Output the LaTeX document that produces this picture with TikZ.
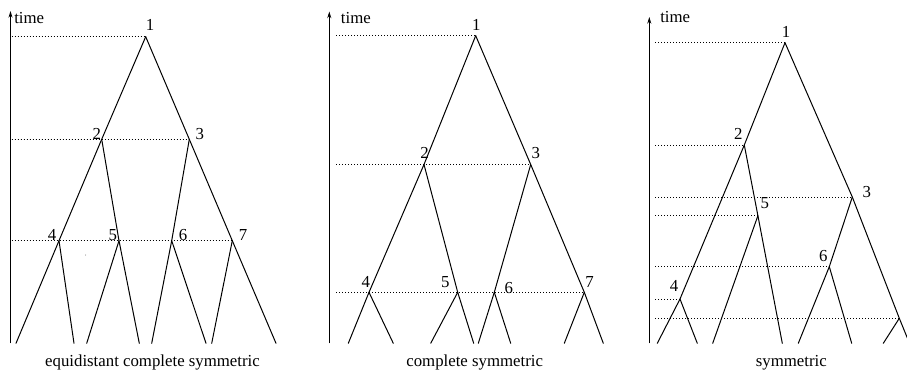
\documentclass[tikz,border=0pt]{standalone}
\usepackage{fontspec}
\setmainfont{Liberation Serif}
\usetikzlibrary{arrows.meta}
\tikzset{
  tree/.style={line width=0.75pt, line cap=round, line join=miter},
  dotline/.style={line width=0.6pt, dash pattern=on 0.6pt off 1.65pt},
  axisline/.style={line width=0.75pt, -{Stealth[length=5pt,width=3pt]}},
  lbl/.style={inner sep=0pt, font=\fontsize{12.6pt}{15pt}\selectfont},
}
\begin{document}
\begin{tikzpicture}[x=0.75pt, y=-0.75pt]
\useasboundingbox (0,0) rectangle (907,385);
\clip (0,0) rectangle (907,385);

% ---------------- Panel 1: equidistant complete symmetric
\coordinate (Abot) at (10.5,343.3);
\coordinate (Atop) at (10.5,11);
\coordinate (As) at (11.7,0);
\coordinate (A1) at (145.7,36.7);
\coordinate (A2) at (101.7,139.3);
\coordinate (A3) at (189.3,139.3);
\coordinate (A4) at (59,240.7);
\coordinate (A5) at (119,240.7);
\coordinate (A6) at (171.7,240.7);
\coordinate (A7) at (232.3,240.7);
\coordinate (Aa) at (16,343.3);
\coordinate (Ab) at (74,343.3);
\coordinate (Ac) at (86.7,343.3);
\coordinate (Ad) at (139.3,343.3);
\coordinate (Ae) at (151.7,343.3);
\coordinate (Af) at (206,343.3);
\coordinate (Ag) at (211.7,343.3);
\coordinate (Ah) at (276,343.3);

\draw[axisline] (Abot) -- (Atop);
\node[lbl, anchor=base west] (Atime) at (14,24) {time};
\foreach \n in {1,2,3,7} \draw[dotline] (As |- A\n) -- (A\n);
\draw[tree] (A1) -- (A2) -- (A4) -- (Aa);
\draw[tree] (A4) -- (Ab);
\draw[tree] (A2) -- (A5) -- (Ad);
\draw[tree] (A5) -- (Ac);
\draw[tree] (A1) -- (A3) -- (A7) -- (Ah);
\draw[tree] (A3) -- (A6) -- (Ae);
\draw[tree] (A6) -- (Af);
\draw[tree] (A7) -- (Ag);
\fill[black!60] (85.7,255) circle (0.5);
\node[lbl] (LA1) at (150,25) {1};
\node[lbl] (LA2) at (96.7,134) {2};
\node[lbl] (LA3) at (199.7,134) {3};
\node[lbl] (LA4) at (52,235) {4};
\node[lbl] (LA5) at (112.7,235) {5};
\node[lbl] (LA6) at (183,235) {6};
\node[lbl] (LA7) at (243,235) {7};
\node[lbl, anchor=base] (CA) at (152.5,366.5) {equidistant complete symmetric};

% ---------------- Panel 2: complete symmetric
\coordinate (Bbot) at (329.3,343.3);
\coordinate (Btop) at (329.3,11.5);
\coordinate (Bs) at (336,0);
\coordinate (B1) at (475.7,35.7);
\coordinate (B2) at (424,164.5);
\coordinate (B3) at (530.7,164.5);
\coordinate (B4) at (369,292.3);
\coordinate (B5) at (457.7,292.3);
\coordinate (B6) at (494.3,292.3);
\coordinate (B7) at (584.3,292.3);
\coordinate (Ba) at (348.3,343.3);
\coordinate (Bb) at (393.3,343.3);
\coordinate (Bc) at (430.7,343.3);
\coordinate (Bd) at (473.7,343.3);
\coordinate (Be) at (478.3,343.3);
\coordinate (Bf) at (510.7,343.3);
\coordinate (Bg) at (564.3,343.3);
\coordinate (Bh) at (603.3,343.3);

\draw[axisline] (Bbot) -- (Btop);
\node[lbl, anchor=base west] (Btime) at (340.7,24) {time};
\foreach \n in {1,3,7} \draw[dotline] (Bs |- B\n) -- (B\n);
\draw[tree] (B1) -- (B2) -- (B4) -- (Ba);
\draw[tree] (B4) -- (Bb);
\draw[tree] (B2) -- (B5) -- (Bd);
\draw[tree] (B5) -- (Bc);
\draw[tree] (B1) -- (B3) -- (B7) -- (Bh);
\draw[tree] (B3) -- (B6) -- (Be);
\draw[tree] (B6) -- (Bf);
\draw[tree] (B7) -- (Bg);
\node[lbl] (LB1) at (476.3,25) {1};
\node[lbl] (LB2) at (424.5,153) {2};
\node[lbl] (LB3) at (535.8,153) {3};
\node[lbl] (LB4) at (365.8,281.7) {4};
\node[lbl] (LB5) at (445.2,281.7) {5};
\node[lbl] (LB6) at (508.7,288) {6};
\node[lbl] (LB7) at (589.5,281.7) {7};
\node[lbl, anchor=base] (CB) at (474.7,366.5) {complete symmetric};

% ---------------- Panel 3: symmetric
\coordinate (Cbot) at (649.3,343.3);
\coordinate (Ctop) at (649.3,17);
\coordinate (Cs) at (655,0);
\coordinate (C1) at (785,42.7);
\coordinate (C2) at (744.3,145);
\coordinate (C3) at (852.3,197);
\coordinate (C5) at (757.9,215.7);
\coordinate (C6) at (829.3,266.7);
\coordinate (C4) at (680,299);
\coordinate (C7) at (899.3,318.3);
\coordinate (Ca) at (657.3,343.3);
\coordinate (Cb) at (697.3,343.3);
\coordinate (Cc) at (712.7,343.3);
\coordinate (Cd) at (782.3,343.3);
\coordinate (Ce) at (798.3,343.3);
\coordinate (Cf) at (851.7,343.3);
\coordinate (Cg) at (883.3,343.3);
\coordinate (Ch) at (909.5,343.3);

\draw[axisline] (Cbot) -- (Ctop);
\node[lbl, anchor=base west] (Ctime) at (660,23) {time};
\foreach \n in {1,2,3,5,6,4,7} \draw[dotline] (Cs |- C\n) -- (C\n);
\draw[tree] (C1) -- (C2) -- (C4) -- (Ca);
\draw[tree] (C4) -- (Cb);
\draw[tree] (C2) -- (C5) -- (Cd);
\draw[tree] (C5) -- (Cc);
\draw[tree] (C1) -- (C3) -- (C7) -- (Ch);
\draw[tree] (C3) -- (C6) -- (Ce);
\draw[tree] (C6) -- (Cf);
\draw[tree] (C7) -- (Cg);
\node[lbl] (LC1) at (786,31.7) {1};
\node[lbl] (LC2) at (738.3,134) {2};
\node[lbl] (LC3) at (866.7,192.5) {3};
\node[lbl] (LC5) at (764.7,203.3) {5};
\node[lbl] (LC6) at (823.3,255.8) {6};
\node[lbl] (LC4) at (674,286) {4};
\node[lbl] (LC7) at (912.5,304) {7};
\node[lbl, anchor=base] (CC) at (791.3,366.5) {symmetric};
\end{tikzpicture}
\end{document}
